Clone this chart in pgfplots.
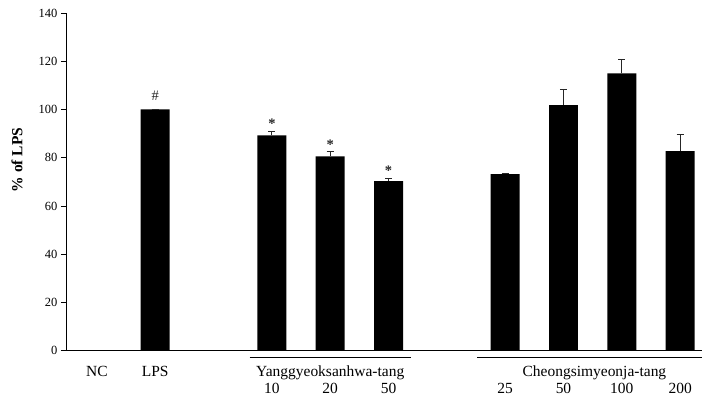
\documentclass[border=0pt]{standalone}
\usepackage{fontspec}
\setmainfont{Liberation Serif}
\usepackage{pgfplots}
\pgfplotsset{compat=1.18}
\begin{document}
\begin{tikzpicture}
\begin{axis}[
  scale only axis, width=637pt, height=338pt,
  xmin=-0.531, xmax=10.38, ymin=0, ymax=140,
  ytick={0,20,...,140},
  axis x line*=bottom, axis y line*=left,
  axis line style={black, line width=0.6pt},
  xtick={0,1,3,4,5,7,8,9,10},
  xticklabels={\raisebox{17pt}{NC}, \raisebox{17pt}{LPS}, 10, 20, 50, 25, 50, 100, 200},
  xtick style={draw=none},
  xticklabel style={anchor=base, yshift=-38pt, font=\fontsize{15.5}{17}\selectfont},
  ytick style={black, line width=0.6pt},
  tick align=outside, major tick length=5pt,
  yticklabel style={font=\fontsize{12.5}{14}\selectfont},
  /pgf/number format/assume math mode=true,
  ylabel={\% of LPS},
  ylabel style={font=\fontsize{15.5}{17}\selectfont\bfseries, at={(rel axis cs:-0.077,0.565)}, anchor=center},
  clip=false,
]
\path (rel axis cs:-0.1036,-0.142) rectangle (rel axis cs:1,1.0385);
\addplot[ybar, bar width=29pt, fill=black, draw=none,
  error bars/.cd, y dir=plus, y explicit,
  error bar style={black!85, line width=0.8pt},
  error mark options={rotate=90, black!85, mark size=3.5pt, line width=0.8pt}]
coordinates {
(1,100) +- (0,0)
(3,89.3) +- (0,1.7)
(4,80.6) +- (0,2.1)
(5,70.3) +- (0,1.1)
(7,73.2) +- (0,0.4)
(8,101.8) +- (0,6.4)
(9,115.0) +- (0,5.7)
(10,82.7) +- (0,6.9)
};
\addplot[draw=none, mark=none, nodes near coords, point meta=explicit symbolic,
  every node near coord/.append style={anchor=center, font=\fontsize{14.5}{15}\selectfont, inner sep=0pt, text=black!85}]
coordinates {(1,105.5)[\#] (3,94)[\textbf{*}] (4,85.5)[\textbf{*}] (5,74.6)[\textbf{*}]};
\draw[line width=1.4pt] ([yshift=-7pt]axis cs:2.62,0) -- ([yshift=-7pt]axis cs:5.39,0);
\draw[line width=1.4pt] ([yshift=-7pt]axis cs:6.52,0) -- ([yshift=-7pt]axis cs:10.38,0);
\node[font=\fontsize{15.5}{17}\selectfont, anchor=base] at ([yshift=-26pt]axis cs:4,0) {Yanggyeoksanhwa-tang};
\node[font=\fontsize{15.5}{17}\selectfont, anchor=base] at ([yshift=-26pt]axis cs:8.53,0) {Cheongsimyeonja-tang};
\end{axis}
\end{tikzpicture}
\end{document}
